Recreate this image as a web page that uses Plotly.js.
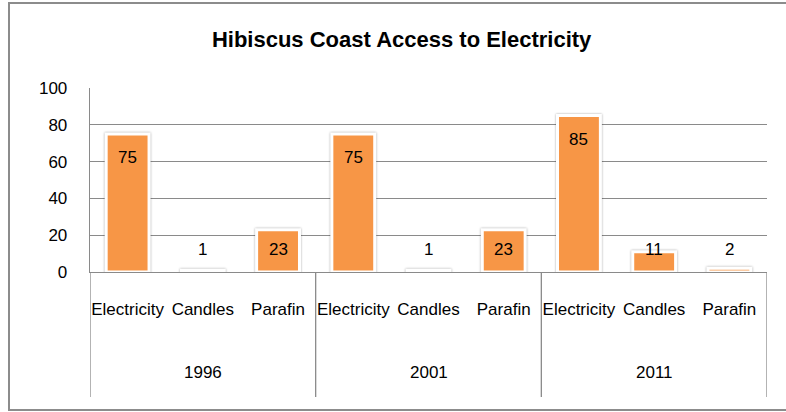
<!DOCTYPE html>
<html>
<head>
<meta charset="utf-8">
<script src="https://cdn.plot.ly/plotly-3.0.1.min.js"></script>
<style>
  html, body { margin: 0; padding: 0; background: #fff; overflow: hidden; }
  #chart { width: 786px; height: 412px; }
  .barlayer .point path { filter: drop-shadow(0 0 1.2px rgba(0,0,0,0.35)); }
</style>
</head>
<body>
<div id="chart"></div>
<script>
// Census years and household energy sources for lighting
const years = ['1996', '2001', '2011'];
const sources = ['Electricity', 'Candles', 'Parafin'];
const values1996 = [75, 1, 23];
const values2001 = [75, 1, 23];
const values2011 = [85, 11, 2];

const byYear = [values1996, values2001, values2011];
const xs = [], ys = [], tickText = [];
byYear.forEach((vals, g) => {
  vals.forEach((v, c) => {
    xs.push(g * sources.length + c);
    ys.push(v);
    tickText.push(sources[c]);
  });
});

const W = 786, H = 412;
const margin = { l: 90, r: 19, t: 88, b: 140, pad: 0 };
const plotW = W - margin.l - margin.r;
const plotH = H - margin.t - margin.b;
const axisGrey = '#8a8a8a';
const font = { family: '"Liberation Sans", Arial, sans-serif', size: 17, color: '#000' };

const bars = {
  type: 'bar',
  x: xs,
  y: ys,
  width: 0.57,
  marker: { color: '#F79646', line: { color: '#ffffff', width: 3 } },
  hoverinfo: 'skip'
};

// Value labels: near the top inside tall bars, resting at a common floor for short ones
const annotations = xs.map((x, i) => ({
  x: x, y: Math.max(ys[i] - 13, 12), xref: 'x', yref: 'y',
  text: String(ys[i]), showarrow: false, yanchor: 'middle', font: font
}));

// Year group labels under the source labels
const perGroup = sources.length;
years.forEach((yr, g) => {
  annotations.push({
    x: g * perGroup + (perGroup - 1) / 2, y: -0.545, xref: 'x', yref: 'paper',
    text: yr, showarrow: false, yanchor: 'middle', font: font
  });
});

// Group dividers running down through the label area
const shapes = [];
for (let g = 0; g <= years.length; g++) {
  shapes.push({
    type: 'line', xref: 'x', yref: 'paper',
    x0: g * perGroup - 0.5, x1: g * perGroup - 0.5, y0: 0, y1: -0.68,
    line: { color: axisGrey, width: 1.3 }
  });
}

// Chart frame (open on the right, where it runs past the page edge)
const px = v => (v - margin.l) / plotW;
const py = v => (H - margin.b - v) / plotH;
const frame = { color: '#8c8c8c', width: 2 };
shapes.push(
  { type: 'line', xref: 'paper', yref: 'paper', x0: px(9), x1: px(9), y0: py(3), y1: py(410), line: frame },
  { type: 'line', xref: 'paper', yref: 'paper', x0: px(8), x1: px(800), y0: py(3), y1: py(3), line: frame },
  { type: 'line', xref: 'paper', yref: 'paper', x0: px(8), x1: px(800), y0: py(410), y1: py(410), line: frame }
);

const layout = {
  width: W, height: H,
  margin: margin,
  paper_bgcolor: '#ffffff', plot_bgcolor: 'rgba(0,0,0,0)',
  showlegend: false,
  title: {
    text: '<b>Hibiscus Coast Access to Electricity</b>',
    xref: 'container', yref: 'container', x: 0.511, y: 0.905,
    xanchor: 'center', yanchor: 'middle',
    font: { family: '"Liberation Sans", Arial, sans-serif', size: 22, color: '#000' }
  },
  xaxis: {
    range: [-0.5, xs.length - 0.5],
    tickmode: 'array', tickvals: xs, ticktext: tickText,
    ticks: '', showgrid: false, zeroline: false,
    showline: true, linecolor: axisGrey, linewidth: 1.3,
    tickfont: font, ticklabelstandoff: 21, fixedrange: true
  },
  yaxis: {
    range: [0, 100], dtick: 20, tick0: 0,
    ticks: '', showgrid: true, gridcolor: axisGrey, gridwidth: 1.3,
    zeroline: false, showline: true, linecolor: axisGrey, linewidth: 1.3,
    tickfont: font, ticklabelstandoff: 18, fixedrange: true
  },
  bargap: 0.43,
  annotations: annotations,
  shapes: shapes
};

Plotly.newPlot('chart', [bars], layout, { displayModeBar: false, staticPlot: true });
</script>
</body>
</html>
